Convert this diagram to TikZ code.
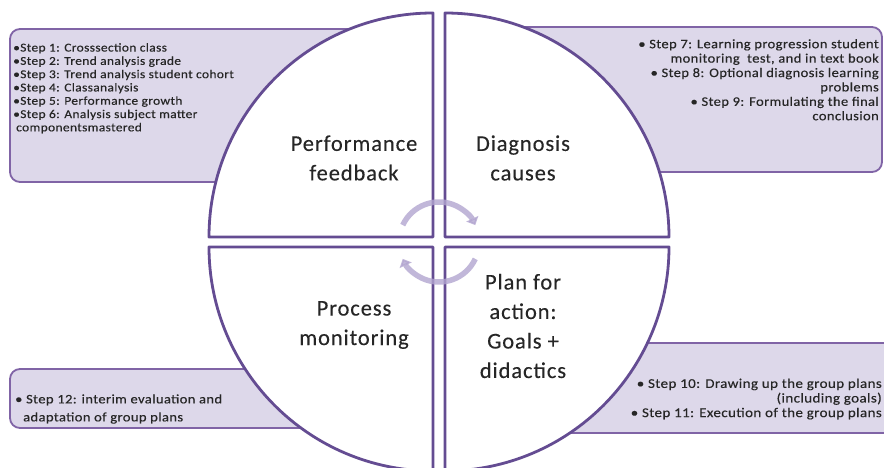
\documentclass[tikz,border=0pt]{standalone}
\usepackage{fontspec}
\setmainfont{Carlito}
\newfontfamily\stepfont[LetterSpace=3, FakeStretch=1.12, FakeBold=0.3]{Carlito}
\newfontfamily\phasefont[LetterSpace=4, FakeBold=0.2]{Carlito}
\usetikzlibrary{positioning, arrows.meta}
\definecolor{ringline}{RGB}{100,76,146}
\definecolor{boxline}{RGB}{128,100,166}
\definecolor{boxfill}{RGB}{221,216,234}
\definecolor{cyclearrow}{RGB}{178,165,208}

\begin{document}
\begin{tikzpicture}[
      x = 1pt, y = 1pt,
      stepbox/.style = {draw = boxline, fill = boxfill, line width = 1.8pt, rounded corners = 10pt},
      quarter/.style = {draw = ringline, fill = white, line width = 2.8pt, line join = round},
      phase/.style = {font = \phasefont\fontsize{22.5}{29.5}\selectfont, align = center, text = black!85},
      steps/.style = {font = \stepfont\fontsize{12}{13.3}\selectfont, inner sep = 0pt, text = black!85},
      turn/.style = {draw = cyclearrow, line width = 5.5pt, opacity = 0.8,
        -{Triangle[width = 13pt, length = 7pt]}}]

  \clip (0,0) rectangle (884,468);

  % boxes behind the ring
  \draw [stepbox] (10,286) rectangle (420,439);
  \draw [stepbox] (460,296) rectangle (882,441);
  \draw [stepbox] (10,40) rectangle (420,99);
  \draw [stepbox] (460,35) rectangle (900,125);

  \node [steps, anchor = north west, align = left] (analysis) at (13,425)
    {•Step 1: Crosssection class\\
     •Step 2: Trend analysis grade\\
     •Step 3: Trend analysis student cohort\\
     •Step 4: Classanalysis\\
     •Step 5: Performance growth\\
     •Step 6: Analysis subject matter\\
     \hspace*{3pt}componentsmastered};
  \node [steps, anchor = north east, align = right, font = \stepfont\fontsize{13}{14.4}\selectfont] (diagnosis) at (879,429)
    {• Step 7: Learning progression student\\
     monitoring\ \ test, and in text book\\
     • Step 8: Optional diagnosis learning\\
     problems\\
     • Step 9: Formulating the final\\
     conclusion};
  \node [steps, anchor = west, align = left, font = \stepfont\fontsize{13}{18}\selectfont] (monitor) at (15,59)
    {• Step 12: interim evaluation and\\
     \hspace*{8pt}adaptation of group plans};
  \node [steps, anchor = east, align = right, font = \stepfont\fontsize{13.4}{14.6}\selectfont] (plans) at (882,69)
    {• Step 10: Drawing up the group plans\\
     (including goals)\\
     • Step 11: Execution of the group plans};

  % the four quarters
  \draw [quarter] (433,231) -- (209,231) arc [start angle = 180, end angle = 90, radius = 224] -- cycle;
  \draw [quarter] (445,231) -- (445,455) arc [start angle = 90, end angle = 0, radius = 224] -- cycle;
  \draw [quarter] (433,221) -- (433,-3) arc [start angle = 270, end angle = 180, radius = 224] -- cycle;
  \draw [quarter] (445,221) -- (669,221) arc [start angle = 0, end angle = -90, radius = 224] -- cycle;

  \node [phase] (feedback) at (354,310) {Performance\\feedback};
  \node [phase] (causes) at (523,310) {Diagnosis\\causes};
  \node [phase] (process) at (354,143) {Process\\monitoring};
  \node [phase] (action) at (523,142) {Plan for\\action:\\Goals +\\didactics};

  \coordinate (hub) at (439,226);
  \draw [turn] (hub) ++(155:40) arc [start angle = 155, end angle = 25, radius = 40];
  \draw [turn] (hub) ++(-25:40) arc [start angle = -25, end angle = -155, radius = 40];
\end{tikzpicture}
\end{document}
